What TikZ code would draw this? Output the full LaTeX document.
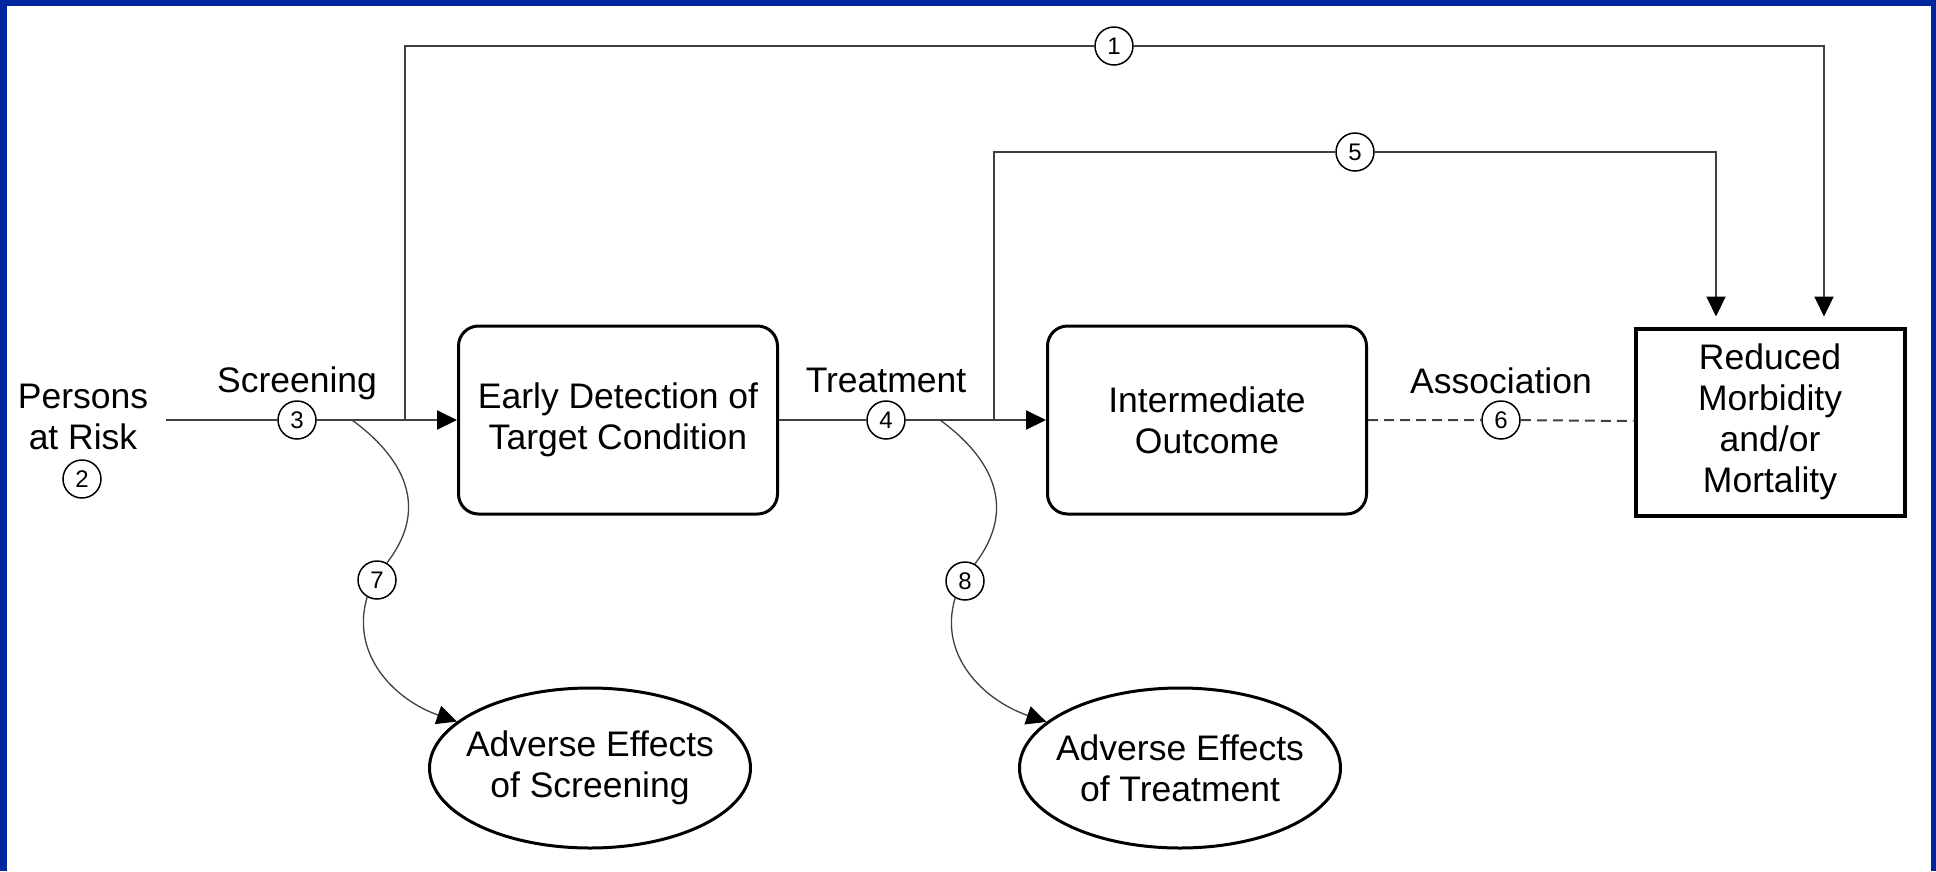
\documentclass[tikz,border=0pt]{standalone}
\usepackage{fontspec}
\setmainfont{Liberation Sans}
\usetikzlibrary{arrows.meta, shapes.geometric}
\definecolor{frameblue}{RGB}{0,38,160}
\tikzset{
	txt/.style = {font = \fontsize{35.5}{41}\selectfont, align = center},
	stage/.style = {txt, draw, line width = 3pt, rounded corners = 20pt, minimum width = 319pt, minimum height = 188pt},
	goal/.style = {txt, draw, line width = 4pt, minimum width = 269pt, minimum height = 187pt},
	harm/.style = {txt, draw, ellipse, line width = 3pt, inner xsep = -25pt, inner ysep = -5pt, minimum width = 321pt, minimum height = 160pt},
	num/.style = {circle, draw, line width = 1.5pt, minimum size = 38pt, inner sep = 0, font = \fontsize{24}{24}\selectfont},
	link/.style = {draw = black!75, line width = 2pt},
	headed/.style = {-{Triangle[length = 20pt, width = 19pt, color = black]}}
}
\begin{document}
\begin{tikzpicture}[x = 1pt, y = -1pt]
\useasboundingbox (0, 0) rectangle (1936, 871);
\fill [frameblue] (0, 0) rectangle (1936, 871);
\fill [white] (7, 6) rectangle (1931, 871);
% boxes
\node [txt, inner xsep = 18pt] (risk) at (83, 417) {Persons\\at Risk};
\node [stage] (early) at (618, 420) {Early Detection of\\Target Condition};
\node [stage] (inter) at (1207, 420) {Intermediate\\Outcome};
\node [goal] (red) at (1770, 422) {Reduced\\Morbidity\\and/or\\Mortality};
\node [harm] (adv1) at (590, 768) {Adverse Effects\\of Screening};
\node [harm] (adv2) at (1180, 768) {Adverse Effects\\of Treatment};
\node [txt, anchor = base] (scrlab) at (297, 392) {Screening};
\node [txt, anchor = base] (trtlab) at (886, 392) {Treatment};
\node [txt, anchor = base] (asslab) at (1501, 393) {Association};
\foreach \n/\x/\y in {1/1114/46, 2/82/479, 3/297/420, 4/886/420, 5/1355/152, 6/1501/420, 7/377/580, 8/965/581}{
	\node [num, fill = white] (c\n) at (\x, \y) {\n};
};
\coordinate (j1) at (405, 420);
\coordinate (j5) at (994, 420);
\coordinate (s7) at (352, 420);
\coordinate (s8) at (940, 420);
% connectors
\draw [link, headed] (risk.east |- c3) -- (c3) -- (early);
\draw [link, headed] (early) -- (c4) -- (inter);
\draw [link, dash pattern = on 10pt off 6pt] (inter) -- (c6) -- (red);
\draw [link, headed, shorten > = 10pt] (j1) |- (c1) -| ([xshift = 54pt]red.north);
\draw [link, headed, shorten > = 10pt] (j5) |- (c5) -| ([xshift = -54pt]red.north);
\draw [link, line width = 1.3pt] (s7) .. controls (400, 455) and (432, 505) .. (c7.60);
\draw [link, line width = 1.3pt, headed] (c7.240) .. controls (350, 655) and (395, 700) .. (adv1);
\draw [link, line width = 1.3pt] (s8) .. controls (988, 455) and (1020, 505) .. (c8.60);
\draw [link, line width = 1.3pt, headed] (c8.240) .. controls (938, 655) and (983, 700) .. (adv2);
\end{tikzpicture}
\end{document}
